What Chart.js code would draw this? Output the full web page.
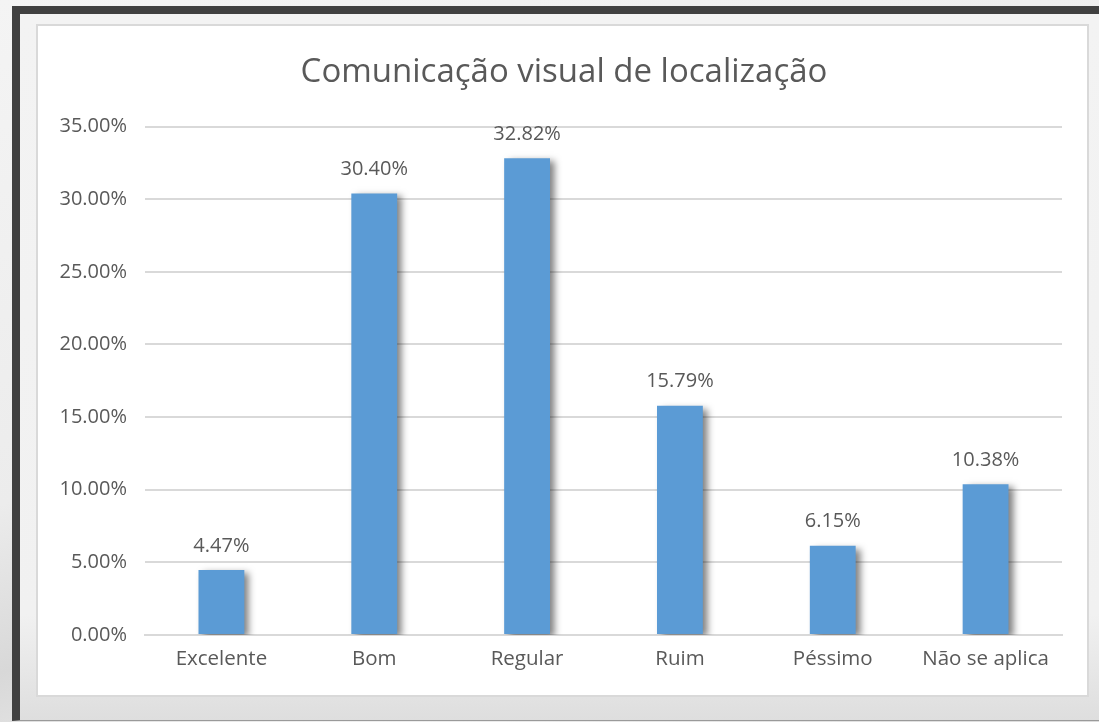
<!DOCTYPE html>
<html>
<head>
<meta charset="utf-8">
<script src="https://cdn.jsdelivr.net/npm/chart.js@4.4.1/dist/chart.umd.min.js"></script>
<style>
    html, body { margin: 0; padding: 0; }
    body {
        width: 1099px;
        height: 722px;
        overflow: hidden;
        position: relative;
        background: linear-gradient(160deg, #f4f4f4 0%, #ececec 45%, #d8d8d8 60%, #efefef 75%, #dcdcdc 100%);
        font-family: 'Open Sans', sans-serif;
    }
    .frame {
        position: absolute;
        left: 12px;
        top: 6px;
        width: 1200px;
        height: 706px;
        border-left: 8px solid #404040;
        border-top: 8px solid #404040;
        border-bottom: 1px solid #9a9a9a;
        background: linear-gradient(180deg, #f3f3f3 0%, #f1f1f1 85%, #dedede 100%);
    }
    .chart-box {
        position: absolute;
        left: 36px;
        top: 24px;
        width: 1049px;
        height: 669px;
        background: #ffffff;
        border: 2px solid #d9d9d9;
    }
    canvas { display: block; }
</style>
</head>
<body>
<div class="frame"></div>
<div class="chart-box">
    <canvas id="locChart" width="1049" height="669"></canvas>
</div>
<script>
// Survey answers: visual signage for finding your way
const categories = ['Excelente', 'Bom', 'Regular', 'Ruim', 'Péssimo', 'Não se aplica'];
const shares = [4.47, 30.40, 32.82, 15.79, 6.15, 10.38];
const yTicks = [0, 5, 10, 15, 20, 25, 30, 35];

const textColor = '#595959';
const gridColor = '#d9d9d9';

// soft drop shadow behind the bars
const barShadow = {
    id: 'barShadow',
    beforeDatasetsDraw(chart) {
        const ctx = chart.ctx;
        ctx.save();
        ctx.shadowColor = 'rgba(0, 0, 0, 0.5)';
        ctx.shadowBlur = 7;
        ctx.shadowOffsetX = 5;
        ctx.shadowOffsetY = 3;
    },
    afterDatasetsDraw(chart) {
        chart.ctx.restore();
    }
};

// value labels above each bar
const valueLabels = {
    id: 'valueLabels',
    afterDatasetsDraw(chart) {
        const ctx = chart.ctx;
        const meta = chart.getDatasetMeta(0);
        ctx.save();
        ctx.font = '20px "Open Sans"';
        ctx.fillStyle = textColor;
        ctx.textAlign = 'center';
        ctx.textBaseline = 'middle';
        meta.data.forEach((bar, i) => {
            ctx.fillText(shares[i].toFixed(2) + '%', bar.x, bar.y - 24);
        });
        ctx.restore();
    }
};

new Chart(document.getElementById('locChart'), {
    type: 'bar',
    data: {
        labels: categories,
        datasets: [{
            data: shares,
            backgroundColor: '#5b9bd5',
            borderWidth: 0,
            barPercentage: 0.30,
            categoryPercentage: 1.0
        }]
    },
    options: {
        responsive: false,
        animation: false,
        devicePixelRatio: 1,
        layout: {
            padding: { left: 28, right: 25, top: 0, bottom: 9 }
        },
        plugins: {
            legend: { display: false },
            tooltip: { enabled: false },
            title: {
                display: true,
                text: 'Comunicação visual de localização',
                color: textColor,
                font: { family: 'Open Sans', size: 33, weight: 'normal' },
                padding: { top: 27, bottom: 34 }
            }
        },
        scales: {
            x: {
                grid: { display: false, drawTicks: false },
                border: { color: gridColor, width: 2 },
                ticks: {
                    color: textColor,
                    font: { family: 'Open Sans', size: 20.5 },
                    padding: 12
                },
                afterFit(scale) { scale.height = 51; }
            },
            y: {
                min: 0,
                max: 35,
                afterBuildTicks(scale) {
                    scale.ticks = yTicks.map(v => ({ value: v }));
                },
                grid: { color: gridColor, lineWidth: 2, drawTicks: false },
                border: { display: false },
                ticks: {
                    color: textColor,
                    font: { family: 'Open Sans', size: 20 },
                    padding: 18,
                    callback: v => v.toFixed(2) + '%'
                },
                afterFit(scale) {
                    scale.width = 79;
                    // let the tick labels spill into the left padding
                    scale._computeLabelArea = () => null;
                }
            }
        }
    },
    plugins: [barShadow, valueLabels]
});
</script>
</body>
</html>
